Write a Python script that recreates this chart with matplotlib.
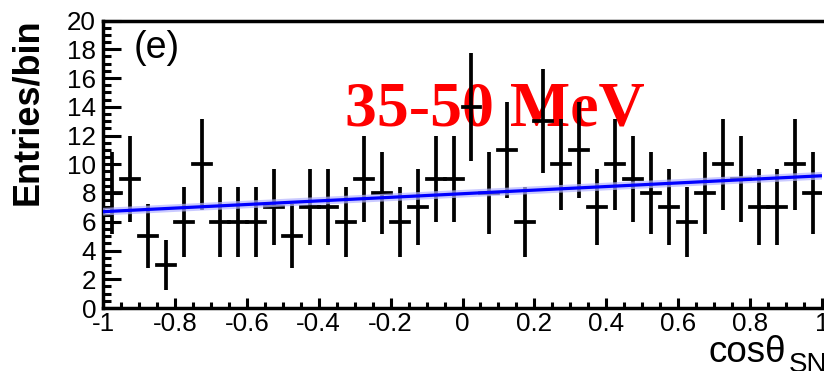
import numpy as np
import matplotlib
matplotlib.use('Agg')
import matplotlib.pyplot as plt
from matplotlib.ticker import FixedLocator, MultipleLocator

# ---- data ----
x_low = -1.0
x_high = 1.0
n_bins = 40
counts = [8, 9, 5, 3, 6, 10, 6, 6, 6, 7, 5, 7, 7, 6, 9, 8, 6, 7, 9, 9,
          14, 8, 11, 6, 13, 10, 11, 7, 10, 9, 8, 7, 6, 8, 10, 9, 7, 7, 10, 8]
fit_p0 = 7.95   # intercept of linear fit
fit_p1 = 1.25   # slope of linear fit
x_ticks = [-1, -0.8, -0.6, -0.4, -0.2, 0, 0.2, 0.4, 0.6, 0.8, 1]
x_tick_labels = ['-1', '-0.8', '-0.6', '-0.4', '-0.2', '0', '0.2', '0.4', '0.6', '0.8', '1']
y_ticks = [0, 2, 4, 6, 8, 10, 12, 14, 16, 18, 20]
y_tick_labels = ['0', '2', '4', '6', '8', '10', '12', '14', '16', '18', '20']
panel_label = '(e)'
energy_label = '35-50 MeV'
y_title = 'Entries/bin'
x_title = 'cos\u03b8'
x_title_sub = 'SN'

plt.rcParams['font.family'] = ['Liberation Sans', 'DejaVu Sans']

W, H = 824, 371
fig = plt.figure(figsize=(W / 100, H / 100), dpi=100)
L, R, T, B = 103, 822, 20.5, 308
ax = fig.add_axes([L / W, 1 - B / H, (R - L) / W, (B - T) / H])

edges = np.linspace(x_low, x_high, n_bins + 1)
centers = 0.5 * (edges[:-1] + edges[1:])
half = 0.5 * (edges[1] - edges[0])
cnt = np.array(counts, dtype=float)

eb = ax.errorbar(centers, cnt, xerr=half, yerr=np.sqrt(cnt), fmt='none',
                 ecolor='black', elinewidth=2.7, capsize=0, zorder=2)
for lc in eb[2]:
    lc.set_capstyle('butt')
eb[2][0].set_capstyle('projecting')

xf = np.array([x_low, x_high])
yf = fit_p0 + fit_p1 * xf
ax.plot(xf, yf, color='#b4b4ff', lw=5.5, alpha=0.7, zorder=3, solid_capstyle='butt')
ax.plot(xf, yf, color='#0000ff', lw=2.3, zorder=4, solid_capstyle='butt')

ax.set_xlim(x_low, x_high)
ax.set_ylim(0, 20)
ax.xaxis.set_major_locator(FixedLocator(x_ticks))
ax.set_xticklabels(x_tick_labels)
ax.xaxis.set_minor_locator(MultipleLocator(0.05))
ax.yaxis.set_major_locator(FixedLocator(y_ticks))
ax.set_yticklabels(y_tick_labels)
ax.yaxis.set_minor_locator(MultipleLocator(0.5))

for s in ['left', 'bottom', 'top']:
    ax.spines[s].set_linewidth(2.5)
ax.spines['right'].set_visible(False)

ax.tick_params(axis='y', which='major', direction='in', length=13, width=2.2,
               labelsize=18.7, pad=5, right=False)
ax.tick_params(axis='y', which='minor', direction='in', length=6, width=2.2, right=False)
ax.tick_params(axis='x', which='major', direction='in', length=7.5, width=2.2,
               labelsize=18.7, pad=3, top=False)
ax.tick_params(axis='x', which='minor', direction='in', length=4.5, width=2.2, top=False)

ax.text(134 / W, 1 - 48 / H, panel_label, transform=fig.transFigure,
        fontsize=27, ha='left', va='center', zorder=1)
ax.text(345 / W, 1 - 125 / H, energy_label, transform=fig.transFigure,
        fontsize=46, fontweight='bold', family='Liberation Serif', color='#ff0000',
        ha='left', va='baseline', zorder=1)

fig.text(28 / W, 1 - 112 / H, y_title, rotation=90, ha='center', va='center',
         fontsize=26, fontweight='bold')
fig.text(708 / W, 1 - 362 / H, x_title, ha='left', va='baseline', fontsize=26.5)
fig.text(789 / W, 1 - 352 / H, x_title_sub, ha='left', va='top', fontsize=20)

fig.savefig('out.png', dpi=100)
